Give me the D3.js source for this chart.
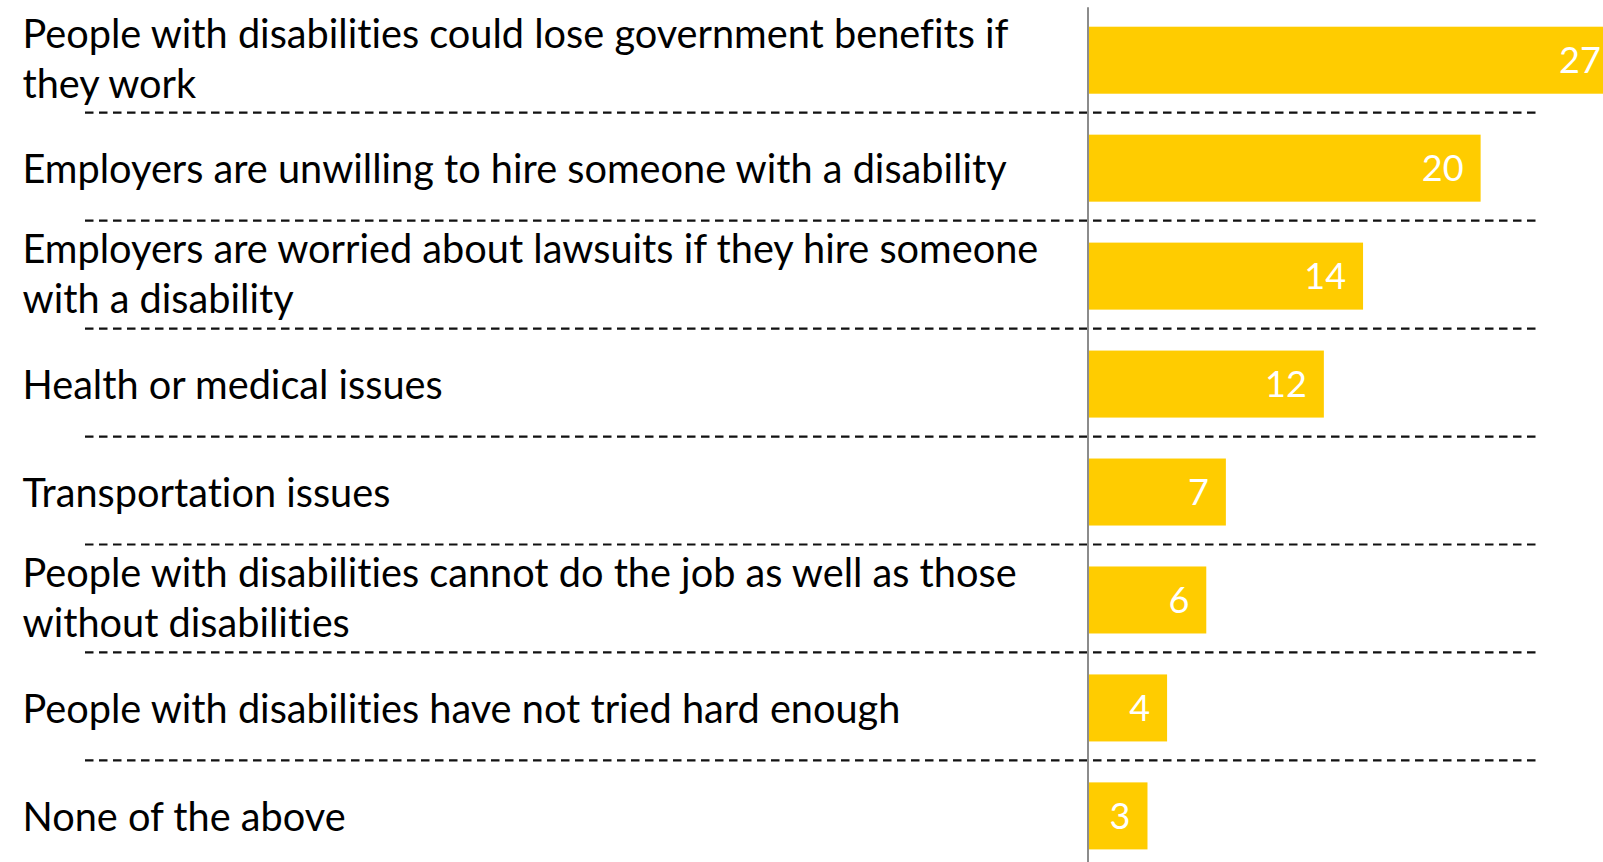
<!DOCTYPE html>
<html><head><meta charset="utf-8">
<script src="https://cdn.jsdelivr.net/npm/d3@7"></script>
<style>html,body{margin:0;padding:0;background:#fff;overflow:hidden}
text{font-variant-ligatures:none;font-feature-settings:"liga" 0}</style>
</head><body>
<svg id="c" width="1603" height="862"></svg>
<script>
const categories = [
  "People with disabilities could lose government benefits if\nthey work",
  "Employers are unwilling to hire someone with a disability",
  "Employers are worried about lawsuits if they hire someone\nwith a disability",
  "Health or medical issues",
  "Transportation issues",
  "People with disabilities cannot do the job as well as those\nwithout disabilities",
  "People with disabilities have not tried hard enough",
  "None of the above"
];
const values = [27, 20, 14, 12, 7, 6, 4, 3];

const FONT = "Lato";
const svg = d3.select("#c");
const x = d3.scaleLinear().domain([0, 27]).range([1088.7, 1617.8]);
const y = d3.scaleBand().domain(d3.range(categories.length)).range([6.7, 869.4])
  .paddingInner(0.3793).paddingOuter(0.1853);

// separators between rows
const seps = d3.range(categories.length - 1);
const sepY = i => (y(i) + y.bandwidth() + y(i + 1)) / 2 - 1.5;
svg.append("g").selectAll("line").data(seps).join("line")
  .attr("x1", 85).attr("x2", 1536)
  .attr("y1", sepY).attr("y2", sepY)
  .attr("stroke", "#111").attr("stroke-width", 2.2).attr("stroke-dasharray", "8.5,5.5");

svg.append("g").selectAll("rect").data(values).join("rect")
  .attr("x", x(0)).attr("y", (d, i) => y(i))
  .attr("width", d => x(d) - x(0)).attr("height", y.bandwidth())
  .attr("fill", "#FFCC00");

svg.append("g").attr("transform", `translate(${x(0) - 1.2},0)`)
  .call(d3.axisLeft(y).tickSize(0).tickFormat(""))
  .call(g => g.select(".domain").attr("stroke", "#8c8c8c").attr("stroke-width", 2));

svg.append("g").selectAll("text").data(values).join("text")
  .attr("x", d => x(d) - 17).attr("y", (d, i) => y(i) + y.bandwidth() / 2)
  .attr("dy", "0.36em").attr("text-anchor", "end")
  .attr("fill", "#fff").style("font-family", FONT).style("font-size", "36px")
  .text(d => d);

const lab = svg.append("g").selectAll("text").data(categories).join("text")
  .style("font-family", FONT).style("font-size", "39.7px").attr("fill", "#000")
  .attr("x", 22.5);
lab.each(function(d, i) {
  const lines = d.split("\n");
  const lh = 50;
  const c = y(i) + y.bandwidth() / 2;
  const base = lines.length > 1 ? 12.3 : 14.8;
  d3.select(this).selectAll("tspan").data(lines).join("tspan")
    .attr("x", 22.5)
    .attr("y", (l, j) => c + base + (j - (lines.length - 1) / 2) * lh)
    .text(l => l);
});
</script>
</body></html>
